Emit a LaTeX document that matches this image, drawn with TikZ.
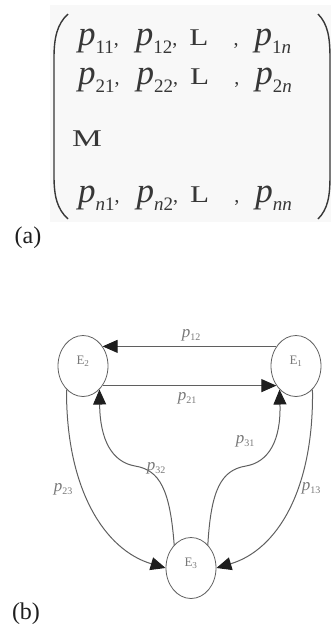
\documentclass[tikz,border=0pt]{standalone}
\usepackage{fontspec}
\usepackage{graphicx}
\setmainfont{Liberation Serif}
\usetikzlibrary{shapes.geometric, arrows.meta}
\definecolor{InkGray}{RGB}{55, 55, 55}
\definecolor{LineGray}{RGB}{95, 95, 95}
\definecolor{LabelGray}{RGB}{120, 120, 120}
\definecolor{TipBlack}{RGB}{30, 30, 30}
\definecolor{PaperGray}{RGB}{248, 248, 248}
\newcommand{\pij}[1]{{\fontsize{17}{17}\selectfont\textit{p}}\raisebox{-3pt}{\fontsize{10}{10}\selectfont#1}}
\newcommand{\pmat}[1]{{\fontsize{35}{35}\selectfont\textit{p}}\raisebox{-8pt}{\fontsize{19}{19}\selectfont#1}}
\newcommand{\wide}[2]{{\fontsize{24}{24}\selectfont\scalebox{#1}[1]{#2}}}

\begin{document}
\begin{tikzpicture}[x=1pt, y=-1pt,
    state/.style={ellipse, draw=LineGray, line width=0.8pt, minimum width=50pt, minimum height=61pt, inner sep=0pt, text=LabelGray, font=\fontsize{13}{13}\selectfont, text height=9pt, text depth=12pt},
    trans/.style={draw=LineGray, line width=1pt, -{Triangle[length=15pt, width=13pt, color=TipBlack]}},
    prob/.style={text=LabelGray, inner sep=1pt},
    row/.style={anchor=base west, inner sep=0pt, text=InkGray, font=\fontsize{20}{20}\selectfont},
    tag/.style={inner sep=0pt, text=TipBlack, font=\fontsize{24}{24}\selectfont}
]
\useasboundingbox (0,0) rectangle (331,633);

% (a) matrix
\fill[PaperGray] (50,5) rectangle (331,222);
\draw[InkGray, line width=1.4pt] (68,14) .. controls (57,24) and (54,38) .. (54,58) -- (54,176) .. controls (54,196) and (57,209) .. (68,219);
\draw[InkGray, line width=1.4pt] (318,14) .. controls (328,24) and (330,38) .. (330,58) -- (330,176) .. controls (330,196) and (328,209) .. (318,219);
\node[row] (row1) at (78,45) {\pmat{11},\hspace{17pt}\pmat{12},\hspace{12pt}\wide{1.3}{L}\hspace{25pt},\hspace{16pt}\pmat{1\textit{n}}};
\node[row] (row2) at (78,84) {\pmat{21},\hspace{17pt}\pmat{22},\hspace{12pt}\wide{1.3}{L}\hspace{25pt},\hspace{16pt}\pmat{2\textit{n}}};
\node[row] (row3) at (72,146) {\wide{1.4}{M}};
\node[row] (row4) at (78,202) {\pmat{\textit{n}1},\hspace{17pt}\pmat{\textit{n}2},\hspace{12pt}\wide{1.3}{L}\hspace{25pt},\hspace{16pt}\pmat{\textit{nn}}};
\node[tag] (taga) at (28,238) {(a)};

% (b) transitions
\node[state] (E2) at (83,366) {E\textsubscript{2}};
\node[state] (E1) at (296,366) {E\textsubscript{1}};
\node[state] (E3) at (191,568) {E\textsubscript{3}};

\draw[trans] (E1.135) -- (E2.45);
\draw[trans] (E2.-45) -- (E1.-135);
\draw[trans] (E3.126) .. controls (170,490) and (160,470) .. (135,466) .. controls (112,462) and (100,440) .. (E2.-55);
\draw[trans] (E3.54) .. controls (211,490) and (221,470) .. (246,466) .. controls (269,462) and (281,440) .. (E1.-125);
\draw[trans] (E2.-125) .. controls (66,490) and (105,550) .. (E3.west);
\draw[trans] (E1.-55) .. controls (314,490) and (277,550) .. (E3.east);

\node[prob] (p12) at (191,335) {\pij{12}};
\node[prob] (p21) at (187,398) {\pij{21}};
\node[prob] (p32) at (156,468) {\pij{32}};
\node[prob] (p31) at (245,441) {\pij{31}};
\node[prob] (p23) at (63,489) {\pij{23}};
\node[prob] (p13) at (311,488) {\pij{13}};
\node[tag] (tagb) at (26,614) {(b)};
\end{tikzpicture}
\end{document}
